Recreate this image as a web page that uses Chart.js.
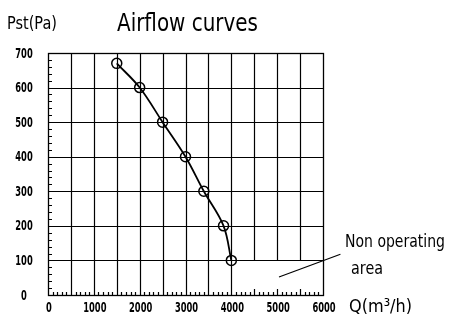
<!DOCTYPE html>
<html>
<head>
<meta charset="utf-8">
<script src="https://cdn.jsdelivr.net/npm/chart.js@4.4.1/dist/chart.umd.min.js"></script>
<style>
  html, body { margin: 0; padding: 0; background: #fff; }
  #wrap { width: 450px; height: 331px; }
</style>
</head>
<body>
<div id="wrap"><canvas id="airflow"></canvas></div>
<script>
// fan curve
const flowQ = [1500, 2000, 2500, 3000, 3400, 3830, 4000];
const pressurePa = [670, 600, 500, 400, 300, 200, 100];

const xRange = [0, 6000];
const yRange = [0, 700];
const nonOperating = { minQ: 4000, maxP: 100 };

const FONT = "'DejaVu Sans', sans-serif";

// draw text squeezed to a given width (the original lettering is narrow)
function fitText(ctx, text, x, y, width) {
  const w = ctx.measureText(text).width;
  ctx.save();
  ctx.translate(x, y);
  ctx.scale(width / w, 1);
  ctx.fillText(text, 0, 0);
  ctx.restore();
}

const airflowGrid = {
  id: "airflowGrid",
  beforeDatasetsDraw(chart) {
    const { ctx, chartArea: a, scales } = chart;
    const x = scales.x, y = scales.y;
    ctx.save();
    ctx.strokeStyle = "#000";
    ctx.lineWidth = 1.2;
    ctx.beginPath();
    // horizontal lines every 100 Pa
    for (let v = 100; v < yRange[1]; v += 100) {
      const py = Math.round(y.getPixelForValue(v)) + 0.5;
      ctx.moveTo(a.left, py);
      ctx.lineTo(a.right, py);
    }
    // vertical lines every 500 m3/h, cut off above the non operating area
    for (let v = 500; v < xRange[1]; v += 500) {
      const px = Math.round(x.getPixelForValue(v)) + 0.5;
      const stop = v > nonOperating.minQ ? y.getPixelForValue(nonOperating.maxP) : a.bottom;
      ctx.moveTo(px, a.top);
      ctx.lineTo(px, stop);
    }
    // small ticks on Q axis
    for (let v = 100; v < xRange[1]; v += 100) {
      const px = Math.round(x.getPixelForValue(v)) + 0.5;
      const len = v % 500 === 0 ? 6 : 3;
      ctx.moveTo(px, a.bottom);
      ctx.lineTo(px, a.bottom - len);
    }
    // small ticks on Pst axis
    for (let v = 20; v < yRange[1]; v += 20) {
      if (v % 100 === 0) continue;
      const py = Math.round(y.getPixelForValue(v)) + 0.5;
      ctx.moveTo(a.left, py);
      ctx.lineTo(a.left + 4, py);
    }
    ctx.stroke();
    ctx.lineWidth = 1.3;
    ctx.strokeRect(Math.round(a.left) + 0.5, Math.round(a.top) + 0.5,
      Math.round(a.right - a.left), Math.round(a.bottom - a.top));
    ctx.restore();
  },
  afterDraw(chart) {
    const { ctx, scales } = chart;
    const x = scales.x, y = scales.y;
    ctx.save();
    ctx.fillStyle = "#000";
    ctx.textBaseline = "middle";
    ctx.textAlign = "left";

    // tick labels, narrow and tall like the original
    ctx.font = "bold 14px " + FONT;
    const digitW = 5.8;
    x.ticks.forEach((t) => {
      const label = String(t.value);
      const w = label.length * digitW;
      fitText(ctx, label, x.getPixelForValue(t.value) + 1 - w / 2, 308, w);
    });
    y.ticks.forEach((t) => {
      const label = String(t.value);
      const w = label.length * digitW;
      fitText(ctx, label, 24 - w / 2, y.getPixelForValue(t.value) + 1, w);
    });

    ctx.font = "25px " + FONT;
    fitText(ctx, "Airflow curves", 117, 24, 141);

    ctx.font = "17px " + FONT;
    fitText(ctx, "Pst(Pa)", 7, 25, 50);

    ctx.font = "18px " + FONT;
    fitText(ctx, "Non operating", 345, 242, 100);
    fitText(ctx, "area", 351, 269, 32);
    fitText(ctx, "Q(m³/h)", 349, 307, 63);

    // leader line to the non operating area
    ctx.strokeStyle = "#000";
    ctx.lineWidth = 1.2;
    ctx.beginPath();
    ctx.moveTo(x.getPixelForValue(5040), y.getPixelForValue(52));
    ctx.lineTo(x.getPixelForValue(6380), y.getPixelForValue(118));
    ctx.stroke();
    ctx.restore();
  }
};

new Chart(document.getElementById("airflow"), {
  type: "line",
  data: {
    datasets: [
      {
        label: "Airflow",
        data: flowQ.map((q, i) => ({ x: q, y: pressurePa[i] })),
        borderColor: "#000",
        borderWidth: 1.8,
        tension: 0.35,
        pointRadius: 5,
        pointBorderWidth: 1.5,
        pointBorderColor: "#000",
        pointBackgroundColor: "rgba(0,0,0,0)",
      },
    ],
  },
  options: {
    responsive: true,
    maintainAspectRatio: false,
    animation: false,
    layout: {
      padding: { top: 53, right: 127, left: 0, bottom: 0 },
    },
    plugins: {
      legend: { display: false },
      title: { display: false },
      tooltip: { enabled: false },
    },
    scales: {
      x: {
        type: "linear",
        min: xRange[0],
        max: xRange[1],
        afterFit: (scale) => { scale.height = 36; },
        ticks: { stepSize: 1000, display: false },
        grid: { display: false, drawTicks: false },
        border: { display: false },
      },
      y: {
        type: "linear",
        min: yRange[0],
        max: yRange[1],
        afterFit: (scale) => { scale.width = 48; },
        ticks: { stepSize: 100, display: false },
        grid: { display: false, drawTicks: false },
        border: { display: false },
      },
    },
  },
  plugins: [airflowGrid],
});
</script>
</body>
</html>
